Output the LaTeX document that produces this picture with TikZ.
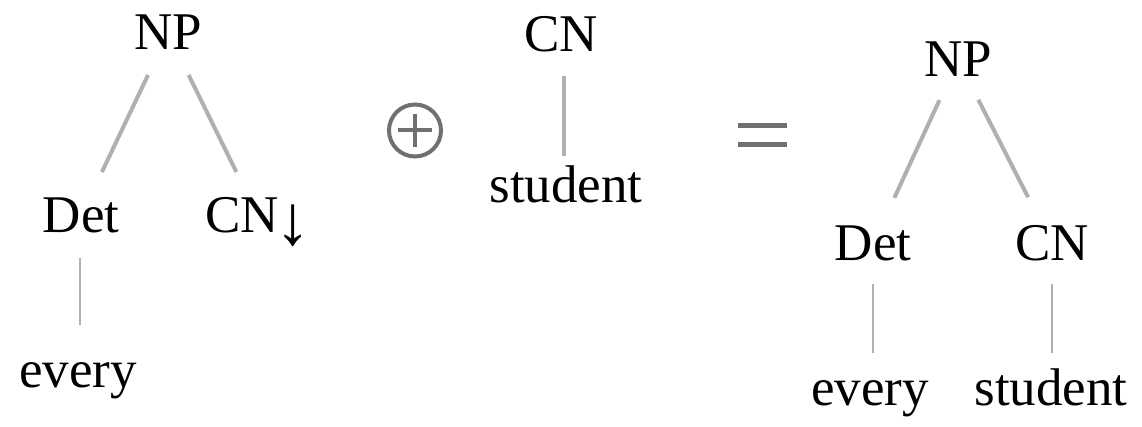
\documentclass[tikz,border=0pt]{standalone}
\usepackage{fontspec}
\usepackage{graphicx}
\setmainfont{Liberation Serif}
\definecolor{edgegray}{HTML}{B0B0B0}
\definecolor{opgray}{HTML}{707070}
\begin{document}
\begin{tikzpicture}[x=1pt,y=-1pt,
  lab/.style={font=\fontsize{53}{60}\selectfont, inner sep=0pt, anchor=base,
              text height=34pt, text depth=0pt},
  edge/.style={draw=edgegray, line width=4pt},
  thinedge/.style={draw=edgegray, line width=2pt},
  opline/.style={draw=opgray, line width=4.5pt}]
\useasboundingbox[fill=white] (0,0) rectangle (1142,427);
% left tree
\node[lab] (np1)   at (168,50)  {NP};
\node[lab] (det1)  at (81,233)  {Det};
\node[lab] (cn1)   at (258,233) {CN\kern-4pt\raisebox{-12pt}{\scalebox{1.33}{↓}}};
\node[lab] (every1) at (78,387) {every};
\draw[edge, shorten <=46.5pt, shorten >=48.7pt] (np1.center) -- (det1.center);
\draw[edge, shorten <=46.8pt, shorten >=49pt] (np1.center) -- (cn1.center);
\draw[thinedge, shorten <=42pt, shorten >=45pt] ([xshift=-1.5pt]det1.center) -- ([xshift=-1.5pt]det1.center |- every1.center);
% oplus
\node[circle, draw=opgray, line width=4pt, minimum size=52pt, inner sep=0pt] (oplus) at (415,130.5) {};
\draw[opline, line width=4pt] ([xshift=-17pt]oplus.center) -- ([xshift=17pt]oplus.center);
\draw[opline, line width=4pt] ([yshift=-16.5pt]oplus.center) -- ([yshift=16.5pt]oplus.center);
% middle tree
\node[lab] (cn2)  at (561,52)  {CN};
\node[lab] (stu2) at (566,203) {student};
\draw[edge, shorten <=41pt, shorten >=30pt] ([xshift=2.5pt]cn2.center) -- ([xshift=2.5pt]cn2.center |- stu2.center);
% equals
\draw[opline, line width=5pt] (738,126) -- (787,126);
\draw[opline, line width=5pt] (738,145) -- (787,145);
% right tree
\node[lab] (np3)   at (958,77)   {NP};
\node[lab] (det3)  at (873,261)  {Det};
\node[lab] (cn3)   at (1052,261) {CN};
\node[lab] (every3) at (870,405) {every};
\node[lab] (stu3)  at (1051,405) {student};
\draw[edge, shorten <=44.2pt, shorten >=50.9pt] (np3.center) -- (det3.center);
\draw[edge, shorten <=44.7pt, shorten >=52.5pt] (np3.center) -- (cn3.center);
\draw[thinedge, shorten <=40pt, shorten >=35pt] (det3.center) -- (det3.center |- every3.center);
\draw[thinedge, shorten <=40pt, shorten >=35pt] (cn3.center) -- (cn3.center |- stu3.center);
\end{tikzpicture}
\end{document}
